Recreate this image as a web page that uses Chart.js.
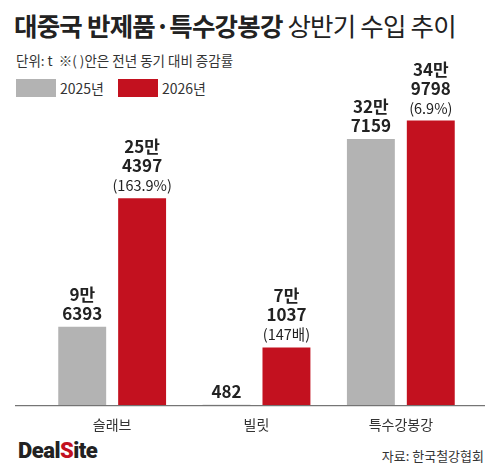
<!DOCTYPE html><html><head><meta charset="utf-8">
<script src="https://cdn.jsdelivr.net/npm/chart.js@4"></script>
<style>body{margin:0;width:500px;height:474px;background:#fff;font-family:"Noto Sans CJK KR","Noto Sans",sans-serif;position:relative;overflow:hidden}
#t{position:absolute;left:14px;top:6px;font-size:25.5px;color:#222;letter-spacing:-0.8px;white-space:nowrap}
#s{position:absolute;left:16px;top:50px;font-size:13.5px;color:#333}
#lg{position:absolute;left:16px;top:78px;font-size:14px;color:#333;display:flex;align-items:center}
#lg i{display:inline-block;width:40px;height:18px;margin-right:4px}
#src{position:absolute;right:16px;top:446px;font-size:13px;color:#333}
#logo{position:absolute;left:18px;top:438px;font-size:22px;font-weight:900;color:#222;font-family:"Roboto";letter-spacing:-0.5px}
canvas{position:absolute;left:0;top:0}</style></head><body>
<div id="t"><b>대중국 반제품·특수강봉강</b> 상반기 수입 추이</div>
<div id="s">단위: t &nbsp;※( )안은 전년 동기 대비 증감률</div>
<div id="lg"><i style="background:#b3b3b3"></i>2025년<i style="background:#c3111f;margin-left:14px"></i>2026년</div>
<div id="logo">Deal<span style="color:#c3111f">S</span>ite</div>
<div id="src">자료: 한국철강협회</div>
<div style="position:absolute;left:0;top:0;width:500px;height:474px"><canvas id="c"></canvas></div>
<script>
const categories=["슬래브","빌릿","특수강봉강"];
const v2025=[96393,482,327159];
const v2026=[254397,71037,349798];
const lab2025=[["9만","6393"],["482"],["32만","7159"]];
const lab2026=[["25만","4397","(163.9%)"],["7만","1037","(147배)"],["34만","9798","(6.9%)"]];
const labs=[lab2025,lab2026];
const labelPlugin={id:"lp",afterDatasetsDraw(ch){const c=ch.ctx;c.save();c.textAlign="center";c.fillStyle="#222";
ch.data.datasets.forEach((d,di)=>{ch.getDatasetMeta(di).data.forEach((b,i)=>{const L=labs[di][i];let y=b.y-7;
for(let k=L.length-1;k>=0;k--){const pct=L[k].startsWith("(");c.font=(pct?"400 14.5px":"700 17px")+' "Noto Sans CJK KR"';c.fillText(L[k],b.x,y);y-=19;}});});
const a=ch.chartArea;c.strokeStyle="#555";c.lineWidth=1;c.beginPath();c.moveTo(15,a.bottom+0.5);c.lineTo(485,a.bottom+0.5);c.stroke();c.restore();}};
new Chart(document.getElementById("c"),{type:"bar",data:{labels:categories,datasets:[
{data:v2025,backgroundColor:"#b3b3b3"},{data:v2026,backgroundColor:"#c3111f"}]},
options:{responsive:true,maintainAspectRatio:false,animation:false,devicePixelRatio:1,
layout:{padding:{left:40,right:27,top:100,bottom:38}},
categoryPercentage:0.83,barPercentage:0.8,
plugins:{legend:{display:false},tooltip:{enabled:false}},
scales:{y:{display:false,min:0,max:375000},x:{grid:{display:false},border:{display:false},ticks:{color:"#333",font:{size:14,family:"Noto Sans CJK KR"},padding:3}}}},
plugins:[labelPlugin]});
</script></body></html>
